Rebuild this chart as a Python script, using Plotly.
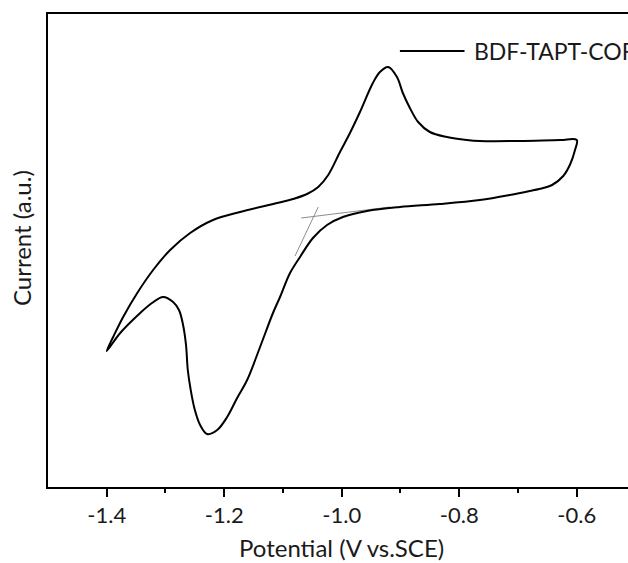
import plotly.graph_objects as go

# ---- data (potential in V vs. SCE, current in a.u.) ----
potential = [
    -0.600, -0.603, -0.611, -0.623, -0.642, -0.657, -0.680, -0.714, -0.765, -0.833,
    -0.901, -0.957, -0.998, -1.025, -1.049, -1.071, -1.088, -1.105, -1.117, -1.139,
    -1.161, -1.178, -1.195, -1.212, -1.229, -1.241, -1.250, -1.257, -1.262, -1.265,
    -1.270, -1.277, -1.287, -1.304, -1.323, -1.343, -1.377, -1.400,
    -1.389, -1.372, -1.348, -1.321, -1.292, -1.258, -1.219, -1.173, -1.110, -1.083,
    -1.059, -1.040, -1.023, -1.003, -0.986, -0.969, -0.947, -0.935, -0.921, -0.906,
    -0.896, -0.884, -0.870, -0.850, -0.821, -0.787, -0.765, -0.697, -0.628, -0.600,
]
current = [
    3.48, 3.38, 3.24, 3.12, 3.03, 3.00, 2.97, 2.93, 2.88, 2.84,
    2.81, 2.77, 2.71, 2.63, 2.50, 2.31, 2.15, 1.91, 1.75, 1.41,
    1.08, 0.90, 0.71, 0.58, 0.54, 0.63, 0.78, 0.98, 1.18, 1.43,
    1.63, 1.78, 1.86, 1.91, 1.85, 1.75, 1.55, 1.37,
    1.51, 1.71, 1.95, 2.18, 2.38, 2.55, 2.68, 2.76, 2.85, 2.89,
    2.94, 3.01, 3.13, 3.36, 3.55, 3.76, 4.05, 4.16, 4.21, 4.11,
    3.95, 3.80, 3.66, 3.56, 3.51, 3.48, 3.47, 3.47, 3.48, 3.48,
]

# onset tangent construction lines
baseline_tangent_x = [-1.069, -0.918]
baseline_tangent_y = [2.70, 2.81]
rise_tangent_x = [-1.040, -1.0795]
rise_tangent_y = [2.81, 2.32]

series_name = "BDF-TAPT-COF"
tick_vals = [-1.4, -1.2, -1.0, -0.8, -0.6]
tick_labels = ["-1.4", "-1.2", "-1.0", "-0.8", "-0.6"]
x_title = "Potential (V vs.SCE)"
y_title = "Current (a.u.)"

FONT = "Lato"
TXT = "#1a1a1a"

fig = go.Figure()
fig.add_trace(go.Scatter(x=baseline_tangent_x, y=baseline_tangent_y, mode="lines",
                         line=dict(color="#8c8c8c", width=1), showlegend=False, hoverinfo="skip"))
fig.add_trace(go.Scatter(x=rise_tangent_x, y=rise_tangent_y, mode="lines",
                         line=dict(color="#8c8c8c", width=1), showlegend=False, hoverinfo="skip"))
fig.add_trace(go.Scatter(x=potential, y=current, mode="lines", name=series_name,
                         line=dict(color="black", width=2, shape="spline", smoothing=1.0),
                         showlegend=False))

# manual legend (long sample line like the original)
fig.add_shape(type="line", xref="x", yref="y", x0=-0.901, x1=-0.791, y0=4.37, y1=4.37,
              line=dict(color="black", width=2))
fig.add_annotation(x=-0.779, y=4.37, xref="x", yref="y", text=series_name, showarrow=False,
                   xanchor="left", yanchor="middle", font=dict(family=FONT, size=23, color=TXT))

# axis titles
fig.add_annotation(x=-1.0, y=-0.127, xref="x", yref="paper", text=x_title, showarrow=False,
                   xanchor="center", yanchor="middle", font=dict(family=FONT, size=24, color=TXT))
fig.add_annotation(x=-0.046, y=0.527, xref="paper", yref="paper", text=y_title, showarrow=False,
                   textangle=-90, xanchor="center", yanchor="middle",
                   font=dict(family=FONT, size=24, color=TXT))

fig.update_layout(
    width=628, height=563,
    margin=dict(l=48, r=0, t=14, b=76),
    paper_bgcolor="white", plot_bgcolor="white",
    font=dict(family=FONT, color=TXT),
    showlegend=False,
    xaxis=dict(
        range=[-1.4999, -0.5128], showgrid=False, zeroline=False,
        showline=True, linecolor="black", linewidth=2, mirror=True,
        tickmode="array", tickvals=tick_vals, ticktext=tick_labels,
        ticks="outside", ticklen=8, tickwidth=1.5, tickcolor="black",
        tickfont=dict(family=FONT, size=22, color=TXT),
        minor=dict(tickmode="linear", tick0=-1.5, dtick=0.1, ticks="outside",
                   ticklen=4, tickwidth=1.5, tickcolor="black"),
    ),
    yaxis=dict(
        range=[0.01, 4.74], showgrid=False, zeroline=False,
        showline=True, linecolor="black", linewidth=2, mirror=False,
        showticklabels=False, ticks="",
    ),
)

fig.write_html("out.html")
